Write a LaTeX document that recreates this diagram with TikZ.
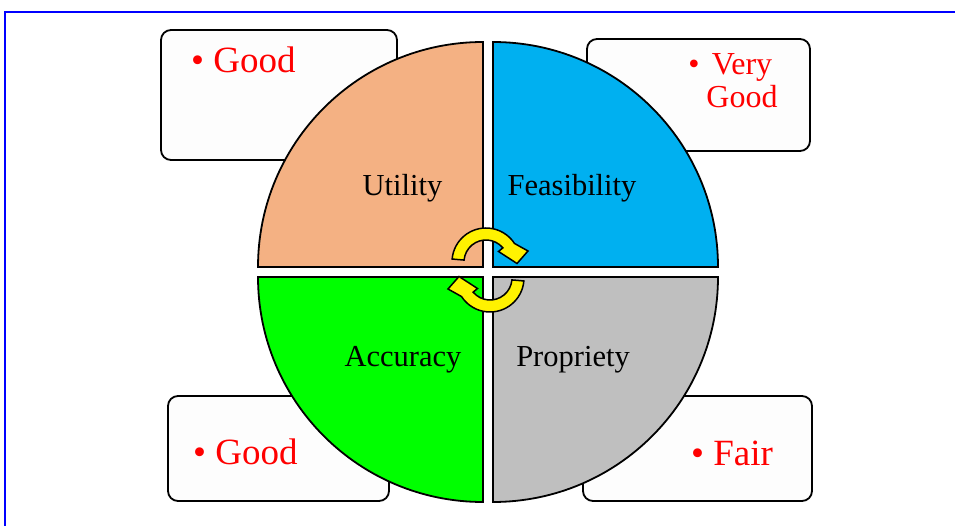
\documentclass[tikz,border=0pt]{standalone}
\usepackage{fontspec}
\setmainfont{Liberation Serif}
\definecolor{utilc}{HTML}{F4B183}
\definecolor{feasc}{HTML}{00B0F0}
\definecolor{accc}{HTML}{00FF00}
\definecolor{propc}{HTML}{BFBFBF}
\definecolor{boxc}{HTML}{FDFDFD}
\begin{document}
\begin{tikzpicture}[x=1pt,y=1pt,
  ratebox/.style={draw=black,line width=1.8pt,fill=boxc,rounded corners=10pt},
  quad/.style={draw=black,line width=1.8pt},
  val/.style={text=red,font=\fontsize{37}{38}\selectfont,inner sep=0pt},
  valsm/.style={text=red,font=\fontsize{32}{33}\selectfont,inner sep=0pt},
  lab/.style={text=black,font=\fontsize{30.5}{32}\selectfont,inner sep=0pt,anchor=base},
  cyc/.style={fill=yellow,draw=black,line width=1.5pt,line join=miter}]
\useasboundingbox (0,0) rectangle (955,525);
\fill[white] (0,0) rectangle (955,525);
\draw[blue,line width=2.5pt] (5,-10) -- (5,513) -- (965,513);
% rating boxes
\draw[ratebox] (161,365) rectangle (397,495);
\draw[ratebox] (587,374) rectangle (810,486);
\draw[ratebox] (168,24) rectangle (389,129);
\draw[ratebox] (583,24) rectangle (812,129);
% quadrants
\def\R{225}
\draw[quad,fill=utilc] (483,258) -- ++(-\R,0) arc[start angle=180,end angle=90,radius=\R] -- cycle;
\draw[quad,fill=feasc] (493,258) -- ++(0,\R) arc[start angle=90,end angle=0,radius=\R] -- cycle;
\draw[quad,fill=accc] (483,248) -- ++(0,-\R) arc[start angle=270,end angle=180,radius=\R] -- cycle;
\draw[quad,fill=propc] (493,248) -- ++(\R,0) arc[start angle=0,end angle=-90,radius=\R] -- cycle;
% cycle arrows
\def\cycpath{(175:34) arc[start angle=175,end angle=33,radius=34] -- (42,11) -- (31,-1.5) -- (12.5,10.5) -- (40:22) arc[start angle=40,end angle=175,radius=22] -- cycle}
\begin{scope}[shift={(486,263)}]
\draw[cyc] \cycpath;
\end{scope}
\begin{scope}[shift={(490,247)},rotate=180]
\draw[cyc] \cycpath;
\end{scope}
% labels
\node[lab] (util) at (402.5,329) {Utility};
\node[lab] (feas) at (572,329) {Feasibility};
\node[lab] (acc) at (403,159) {Accuracy};
\node[lab] (prop) at (573,159) {Propriety};
% ratings
\node[val,anchor=base west] (r1) at (191,452) {• Good};
\node[valsm,anchor=base] (r2b) at (694,450) {•};
\node[valsm,anchor=base] (r2a) at (742,450) {Very};
\node[valsm,anchor=base] (r2c) at (742,417) {Good};
\node[val,anchor=base west] (r3) at (193,61) {• Good};
\node[val,anchor=base west] (r4) at (691,60) {• Fair};
\end{tikzpicture}
\end{document}
